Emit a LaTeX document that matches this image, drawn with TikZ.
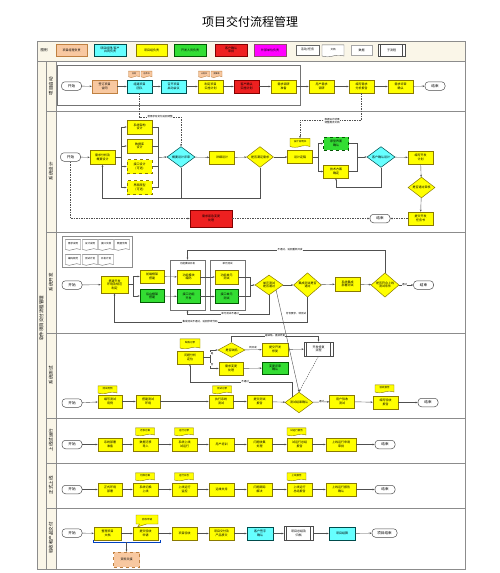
\documentclass[tikz,border=0pt]{standalone}
\usepackage{fontspec}
\setmainfont{Noto Sans CJK SC}
\usetikzlibrary{shapes.geometric,shapes.symbols,shapes.callouts,arrows.meta,calc}
\definecolor{cyell}{HTML}{FFFF00}
\definecolor{ccyan}{HTML}{66FFFF}
\definecolor{cgreen}{HTML}{33DD33}
\definecolor{cred}{HTML}{EE2020}
\definecolor{corange}{HTML}{F8C8A0}
\definecolor{cmag}{HTML}{FF00FF}
\definecolor{cedge}{HTML}{8A7A00}
\definecolor{ccream}{HTML}{FAF6E8}
\definecolor{cline}{HTML}{505050}
\definecolor{cframe}{HTML}{8C8C8C}
\tikzset{
  txt/.style={font=\fontsize{3}{3.6}\selectfont, align=center},
  task/.style={rectangle, draw=cedge, line width=0.5pt, fill=cyell, minimum width=25pt, minimum height=13pt, inner sep=0.4pt, txt},
  ctask/.style={task, fill=ccyan, draw=teal!60!black},
  gtask/.style={task, fill=cgreen, draw=green!35!black},
  rtask/.style={task, fill=cred, draw=red!50!black},
  otask/.style={task, fill=corange, draw=brown},
  mtask/.style={task, fill=cmag, draw=magenta!50!black},
  wtask/.style={task, fill=white, draw=black!60},
  term/.style={rectangle, rounded corners=3.5pt, draw=black!70, line width=0.5pt, fill=white, minimum width=20pt, minimum height=8.5pt, inner sep=0.4pt, font=\fontsize{3.6}{4}\selectfont},
  dec/.style={diamond, draw=cedge, line width=0.5pt, fill=cyell, minimum width=28pt, minimum height=19pt, inner sep=0pt, txt},
  cdec/.style={dec, fill=ccyan, draw=teal!60!black},
  docu/.style={tape, tape bend top=none, tape bend height=1.6pt, draw=cedge, line width=0.4pt, fill=cyell, minimum width=19pt, minimum height=8pt, inner sep=0.3pt, font=\fontsize{2.5}{3}\selectfont},
  odocu/.style={docu, fill=corange, draw=brown, minimum width=11pt, minimum height=6.5pt, font=\fontsize{2}{2.4}\selectfont},
  wdocu/.style={docu, fill=white, draw=black!60},
  subp/.style={rectangle, draw=black!70, line width=0.5pt, fill=white, minimum width=29pt, minimum height=14pt, txt,
    path picture={\draw[black!70,line width=0.4pt] ([xshift=2.5pt]path picture bounding box.north west) -- ([xshift=2.5pt]path picture bounding box.south west);
                  \draw[black!70,line width=0.4pt] ([xshift=-2.5pt]path picture bounding box.north east) -- ([xshift=-2.5pt]path picture bounding box.south east);}},
  grp/.style={rectangle, draw=black!55, line width=0.5pt, fill=none, inner sep=0pt},
  conn/.style={draw=cline, line width=0.4pt, -{Stealth[length=2.2pt,width=1.8pt]}},
  dconn/.style={conn, dash pattern=on 1.5pt off 1pt},
  plain/.style={draw=cline, line width=0.4pt},
  lbl/.style={font=\fontsize{2.5}{3}\selectfont, fill=white, inner sep=0.3pt, align=center},
  lanetxt/.style={font=\fontsize{4.5}{5}\selectfont, rotate=90},
}
\begin{document}
\begin{tikzpicture}[x=1pt,y=-1pt]
\useasboundingbox (0,0) rectangle (500,573);
\fill[white] (0,0) rectangle (500,573);
\node[font=\fontsize{12}{14}\selectfont] (title) at (250,22) {项目交付流程管理};
% frame
\fill[ccream] (37,41) rectangle (465,61);
\fill[ccream] (37,61) rectangle (56,569);
\draw[cframe, line width=0.6pt] (37,41) rectangle (465,569);
\draw[cframe, line width=0.5pt] (37,61) -- (465,61);
\draw[cframe, line width=0.5pt] (46,61) -- (46,569);
\draw[cframe, line width=0.5pt] (56,61) -- (56,569);
\foreach \yy in {111,232,333,418,463,508} \draw[cframe, line width=0.5pt] (46,\yy) -- (465,\yy);
\node[lanetxt] (outer) at (41.5,318) {软件项目交付流程管理};
\node[lanetxt] (ln1) at (51,86) {项目启动};
\node[lanetxt] (ln2) at (51,171) {系统设计};
\node[lanetxt] (ln3) at (51,282) {系统开发};
\node[lanetxt] (ln4) at (51,375) {系统测试};
\node[lanetxt] (ln5) at (51,440) {上线试运行};
\node[lanetxt] (ln6) at (51,485) {正式上线};
\node[lanetxt] (ln7) at (51,538) {验收和产品交付};
% legend
\node[font=\fontsize{3.5}{4}\selectfont] (lgt) at (44,50) {图例};
\node[otask, minimum width=31pt, minimum height=12pt] (l1) at (71.5,50) {项目经理负责};
\node[ctask, minimum width=32pt, minimum height=12pt] (l2) at (110,50) {项目经理/客户\\共同负责};
\node[task, minimum width=31pt, minimum height=12pt] (l3) at (151.5,50) {项目组负责};
\node[gtask, minimum width=32pt, minimum height=12pt] (l4) at (190,50) {开发人员负责};
\node[rtask, minimum width=32pt, minimum height=12pt] (l5) at (231,50) {客户确认\\审批};
\node[mtask, minimum width=32pt, minimum height=12pt] (l6) at (270,50) {外部单位负责};
\node[wtask, minimum width=23pt, minimum height=10pt] (l7) at (307.5,50) {活动/任务};
\node[wdocu, minimum width=22pt, minimum height=12pt] (l8) at (333,50) {文档};
\node[wtask, draw=black!35, minimum width=21pt, minimum height=10pt] (l9) at (361.5,50) {数据};
\node[subp, minimum width=27pt, minimum height=12pt] (l10) at (391.5,50) {子流程};
% ---------------- lane 1
\node[grp, minimum width=243pt, minimum height=40pt] (g0) at (178.5,85) {};
\node[term] (s1) at (71.5,86) {开始};
\node[otask] (a1) at (104.5,86.5) {签订项目\\合同};
\node[ctask] (a2) at (139.5,86.5) {组建项目\\团队};
\node[ctask] (a3) at (173.5,86.5) {召开项目\\启动会议};
\node[task] (a4) at (210.5,86.5) {制定项目\\实施计划};
\node[rtask] (a5) at (246.5,86.5) {客户确认\\实施计划};
\node[task] (a6) at (283.5,86.5) {需求调研\\准备};
\node[task] (a7) at (321.5,86.5) {用户需求\\调研};
\node[task] (a8) at (361.5,86.5) {编写需求\\分析报告};
\node[task] (a9) at (400.5,86.5) {需求评审\\确认};
\node[term] (e1) at (435,86) {结束};
\node[odocu] (a2d1) at (134,73.5) {合同};
\node[odocu] (a2d2) at (146.5,73.5) {任命书};
\node[odocu] (a4d1) at (204,73.5) {计划书};
\node[odocu] (a4d2) at (216.5,73.5) {预算表};
\foreach \u/\v in {s1/a1,a1/a2,a2/a3,a3/a4,a4/a5,a5/a6,a6/a7,a7/a8,a8/a9,a9/e1} \draw[conn] (\u) -- (\v);
% ---------------- lane 2
\node[term] (s2) at (70.5,157) {开始};
\node[task, minimum height=14pt] (b1) at (102.5,157.5) {需求分析及\\概要设计};
\node[task, minimum height=14pt] (b2) at (139.5,127) {系统架构\\设计};
\node[task, minimum height=14pt] (b3) at (139.5,146) {数据库\\设计};
\node[task, minimum height=14pt, dashed] (b4) at (139.5,166.5) {接口设计\\(可选)};
\node[task, minimum height=14pt, dashed] (b5) at (139.5,187.5) {界面原型\\(可选)};
\node[cdec] (bd1) at (181,157) {概要设计评审};
\node[task] (b6) at (222,157.5) {详细设计};
\node[dec, minimum width=27pt] (bd2) at (260,157) {是否满足需求};
\node[task] (b7) at (300,157) {设计定稿};
\node[docu, minimum width=20pt, minimum height=9pt] (b7d) at (300,142) {设计说明书};
\node[gtask, dashed] (b8) at (336,143.5) {原型界面\\确认};
\node[task] (b9) at (336,171.5) {技术方案\\确定};
\node[cdec] (bd3) at (381,157) {客户确认设计};
\node[task] (b10) at (420.5,157.5) {编写开发\\计划};
\node[dec, minimum width=27pt] (bd4) at (421.5,187.5) {是否通过审核};
\node[task] (b11) at (420.5,218.5) {提交开发\\任务书};
\node[term] (e2) at (380,218.5) {结束};
\node[rtask, minimum width=42pt, minimum height=17pt] (rb) at (211,218.5) {需求紧急变更\\处理};
\coordinate (sp2) at (121,157.5);
\coordinate (mg2) at (158,157.5);
\draw[conn] (s2) -- (b1);
\draw[plain] (b1.east) -- (sp2);
\foreach \v in {b2,b3,b4,b5} {\draw[conn] (sp2) |- (\v.west); \draw[plain] (\v.east) -| (mg2);}
\draw[conn] (mg2) -- (bd1.west);
\draw[conn] (bd1) -- (b6);
\draw[conn] (b6) -- (bd2);
\draw[conn] (bd2) -- (b7);
\coordinate (fb2) at (102.5,198);
\draw[conn] (bd1.south) |- (fb2) -- (b1.south);
\draw[plain] (bd2.south) |- (fb2);
\coordinate (k1) at (139.5,117);
\draw[dconn] (a2.south) -- (k1) -| (bd1.north);
\node[lbl] (k1l) at (160,117) {若需求有变化返回调整};
\coordinate (k2) at (361.5,120);
\draw[dconn] (a8.south) -- (k2) -| (b7d.north);
\node[lbl] (k2l) at (332,121.5) {根据设计结果\\调整需求文档};
\coordinate (sp3) at (318,157);
\coordinate (mg3) at (357,157);
\draw[plain] (b7.east) -- (sp3);
\foreach \v in {b8,b9} {\draw[conn] (sp3) |- (\v.west); \draw[plain] (\v.east) -| (mg3);}
\draw[conn] (mg3) -- (bd3.west);
\coordinate (fb3) at (336,187);
\draw[conn] (bd3.south) |- (fb3) -- (b9.south);
\draw[conn] (bd3) -- (b10);
\draw[conn] (b10) -- (bd4);
\draw[conn] (bd4) -- (b11);
\draw[dconn] (b11) -- (e2);
\draw[dconn] (s2.south) |- (rb.west);
\draw[dconn] (rb.east) -- (e2.west);
% ---------------- lane 3
\node[grp, draw=black!45, fill=white, minimum width=70pt, minimum height=31pt] (docbox) at (97,251.5) {};
\node[wdocu, minimum width=15pt, minimum height=11pt] (dd1) at (73,244) {需求说明};
\node[wdocu, minimum width=15pt, minimum height=11pt] (dd2) at (90,244) {设计说明};
\node[wdocu, minimum width=15pt, minimum height=11pt] (dd3) at (106,244) {接口文档};
\node[wdocu, minimum width=15pt, minimum height=11pt] (dd4) at (122,244) {数据字典};
\node[wdocu, minimum width=15pt, minimum height=11pt] (dd5) at (73,259) {编码规范};
\node[wdocu, minimum width=15pt, minimum height=11pt] (dd6) at (90,259) {测试计划};
\node[wdocu, minimum width=15pt, minimum height=11pt] (dd7) at (106,259) {开发计划};
\node[term] (s3) at (72,285) {开始};
\node[task, minimum width=27pt, minimum height=17pt] (c1) at (114.5,284.5) {搭建开发\\环境及规范\\制定};
\node[task, minimum width=24pt] (c2) at (152,276.5) {前端框架\\搭建};
\node[gtask, minimum width=24pt] (c3) at (152,296) {后台框架\\搭建};
\node[grp, minimum width=35pt, minimum height=50pt] (g1) at (187.5,285) {};
\node[grp, minimum width=35pt, minimum height=50pt] (g2) at (227.5,285) {};
\node[txt, font=\fontsize{2.5}{3}\selectfont] (g1t) at (187.5,264) {功能模块开发};
\node[txt, font=\fontsize{2.5}{3}\selectfont] (g2t) at (227.5,264) {单元测试};
\node[task, minimum width=23pt, minimum height=14pt] (c4) at (188.5,277) {功能模块\\编码};
\node[gtask, minimum width=23pt, minimum height=14pt] (c5) at (188.5,296.5) {接口功能\\开发};
\node[task, minimum width=23pt, minimum height=14pt] (c6) at (226.5,277) {功能单元\\测试};
\node[gtask, minimum width=23pt, minimum height=14pt] (c7) at (226.5,296.5) {接口单元\\测试};
\node[dec, minimum height=20pt] (cd1) at (269,285) {单元测试\\是否通过};
\node[dec, minimum height=20pt] (cd2) at (307.5,285) {集成测试是否\\通过};
\node[task, minimum height=14pt] (c8) at (347.5,284) {系统集成\\部署测试};
\node[dec, minimum height=20pt] (cd3) at (385,285) {是否符合上线\\测试条件};
\node[term] (e3) at (423.5,285) {结束};
\coordinate (sp4) at (133,284.5);
\coordinate (mg4) at (250,285);
\draw[conn] (s3) -- (c1);
\draw[plain] (c1.east) -- (sp4);
\draw[conn] (sp4) |- (c2.west);
\draw[conn] (sp4) |- (c3.west);
\draw[conn] (c2) -- (c4);
\draw[conn] (c3) -- (c5);
\draw[conn] (c4) -- (c6);
\draw[conn] (c5) -- (c7);
\draw[plain] (c6.east) -| (mg4);
\draw[plain] (c7.east) -| (mg4);
\draw[conn] (mg4) -- (cd1.west);
\draw[conn] (cd1) -- (cd2);
\draw[conn] (cd2) -- (c8);
\draw[conn] (c8) -- (cd3);
\draw[conn] (cd3) -- (e3);
\node[lbl] (pass3) at (404.5,285) {通过};
\coordinate (k3) at (187.5,250);
\draw[conn] (cd3.north) |- (k3) -- (g1.north);
\node[lbl] (k3l) at (290,250) {不通过，返回重新开发};
\coordinate (k4) at (187.5,314);
\draw[conn] (cd1.south) |- (k4) -- (g1.south);
\node[lbl] (k4l) at (230,314) {单元测试不通过};
\coordinate (k5) at (114.5,322);
\draw[conn] (cd2.south) |- (k5) -- (c1.south);
\node[lbl] (k5l) at (200,322) {集成测试不通过，返回修改代码};
% ---------------- lane 4
\node[term] (s4) at (72,403) {开始};
\node[task, minimum width=24pt] (f1) at (110,401.5) {编写测试\\用例};
\node[docu] (f1d) at (107.5,389) {测试用例};
\node[task, minimum width=24pt] (f2) at (148,401.5) {搭建测试\\环境};
\node[task, minimum width=24pt] (f3) at (221,401.5) {执行系统\\测试};
\node[docu] (f3d) at (222,389) {测试记录};
\node[task] (f4) at (259.5,401.5) {提交测试\\报告};
\node[dec] (fd1) at (299,402.5) {测试结果确认};
\node[task] (f5) at (342,401.5) {用户验收\\测试};
\node[task] (f6) at (385.5,402.5) {编写验收\\报告};
\node[docu] (f6d) at (384.5,388) {验收报告};
\node[term] (e4) at (428,402.5) {结束};
\node[task, minimum width=26pt] (f7) at (190,357.5) {问题分析\\定位};
\node[docu, minimum width=20pt, minimum height=10pt] (f7d) at (190,343) {缺陷记录};
\node[dec, minimum width=27pt, minimum height=14pt] (fd2) at (231.5,350) {是否缺陷};
\node[task, minimum width=24pt] (f8) at (231,368.5) {需求变更\\处理};
\node[task, minimum width=26pt] (f9) at (275,349.5) {提交开发\\修复};
\node[gtask, minimum width=26pt, minimum height=12pt] (f10) at (275,368) {变更评审\\确认};
\node[subp] (f11) at (318.5,349) {开发修复\\流程};
\foreach \u/\v in {s4/f1,f1/f2,f2/f3,f3/f4,f4/fd1,fd1/f5,f5/f6,f6/e4} \draw[conn] (\u) -- (\v);
\node[lbl] (pass4) at (321.5,402) {通过};
\coordinate (sp5) at (210,357.5);
\draw[plain] (f7.east) -- (sp5);
\draw[conn] (sp5) |- (fd2.west);
\draw[conn] (sp5) |- (f8.west);
\node[lbl] (yes4) at (212,353.5) {是};
\node[lbl] (no4) at (212,364.5) {否};
\draw[conn] (fd2) -- (f9);
\node[lbl] (k6m) at (253,347.5) {转开发};
\draw[conn] (f9) -- (f11);
\draw[conn] (f8) -- (f10);
\coordinate (k6) at (318.5,336);
\draw[conn] (fd2.north) |- (k6) -- (f11.north);
\node[lbl] (k6l) at (275,336) {是缺陷，直接修复};
\coordinate (k7) at (190,382);
\draw[conn] (fd1.north west) |- (k7) -- (f7.south);
\node[lbl] (k7l) at (245,382) {不通过};
\draw[conn] (cd1.south east) -- (fd1.north);
\node[lbl] (k8l) at (296,314) {符合要求，转测试};
\draw[dconn] (f11.south) -- (fd1.north);
% ---------------- lane 5
\node[term] (s5) at (72,444.5) {开始};
\node[task, minimum width=24pt] (h1) at (110,444.5) {系统部署\\准备};
\node[task] (h2) at (145.5,444.5) {数据迁移\\导入};
\node[docu] (h2d) at (145,431) {迁移方案};
\node[task] (h3) at (184.5,444.5) {系统上线\\试运行};
\node[docu] (h3d) at (184,431) {运行记录};
\node[task] (h4) at (221.5,444.5) {用户培训};
\node[task] (h5) at (259.5,444.5) {问题收集\\处理};
\node[task] (h6) at (299.5,444.5) {试运行总结\\报告};
\node[docu] (h6d) at (296.5,431) {试运行报告};
\node[task, minimum width=30pt] (h7) at (341,444.5) {上线运行申请\\审批};
\node[term] (e5) at (385,444.5) {结束};
\foreach \u/\v in {s5/h1,h1/h2,h2/h3,h3/h4,h4/h5,h5/h6,h6/h7,h7/e5} \draw[conn] (\u) -- (\v);
% ---------------- lane 6
\node[term] (s6) at (72,489.5) {开始};
\node[task, minimum width=24pt] (j1) at (110,489.5) {正式环境\\部署};
\node[task] (j2) at (145.5,489.5) {系统切换\\上线};
\node[docu] (j2d) at (145,476) {切换方案};
\node[task] (j3) at (184.5,489.5) {上线运行\\监控};
\node[docu] (j3d) at (184,476) {运行日志};
\node[task] (j4) at (221.5,489.5) {运维支持};
\node[task] (j5) at (259.5,489.5) {问题跟踪\\解决};
\node[task] (j6) at (299.5,489.5) {上线运行\\总结报告};
\node[docu] (j6d) at (296.5,476) {上线报告};
\node[task, minimum width=30pt] (j7) at (341,489.5) {上线运行报告\\确认};
\node[term] (e6) at (385,489.5) {结束};
\foreach \u/\v in {s6/j1,j1/j2,j2/j3,j3/j4,j4/j5,j5/j6,j6/j7,j7/e6} \draw[conn] (\u) -- (\v);
% ---------------- lane 7
\node[term] (s7) at (72,533) {开始};
\node[task, minimum width=27pt] (i1) at (107.5,533.5) {整理项目\\文档};
\node[task] (i2) at (145.5,533.5) {提交验收\\申请};
\node[rectangle callout, draw=cedge, line width=0.4pt, fill=cyell, minimum width=22pt, minimum height=9pt, inner sep=0.3pt, font=\fontsize{2.5}{3}\selectfont, callout absolute pointer={($(i2.north west)+(5,0)$)}] (i2c) at (147,519.5) {验收申请};
\node[task] (i3) at (184.5,533.5) {项目验收};
\node[task] (i4) at (221.5,533.5) {项目交付及\\产品移交};
\node[ctask, minimum width=26pt] (i5) at (260,533.5) {客户签字\\确认};
\node[subp] (i6) at (298.5,533.5) {项目总结及\\归档};
\node[ctask, minimum width=26pt] (i7) at (342,533.5) {项目结算};
\node[term, minimum width=25pt] (e7) at (384.5,533) {项目结束};
\node[otask, dashed, minimum width=26pt, minimum height=15pt] (i8) at (126.5,559.5) {资料交接};
\foreach \u/\v in {s7/i1,i1/i2,i2/i3,i3/i4,i4/i5,i5/i6,i6/i7,i7/e7} \draw[conn] (\u) -- (\v);
\draw[draw=teal!50!blue, line width=0.4pt] (93,539.5) -- (93,542) -- (160,542) -- (160,539.5);
\coordinate (br) at (126.5,542);
\draw[conn] (br) -- (i8.north);
\end{tikzpicture}
\end{document}
